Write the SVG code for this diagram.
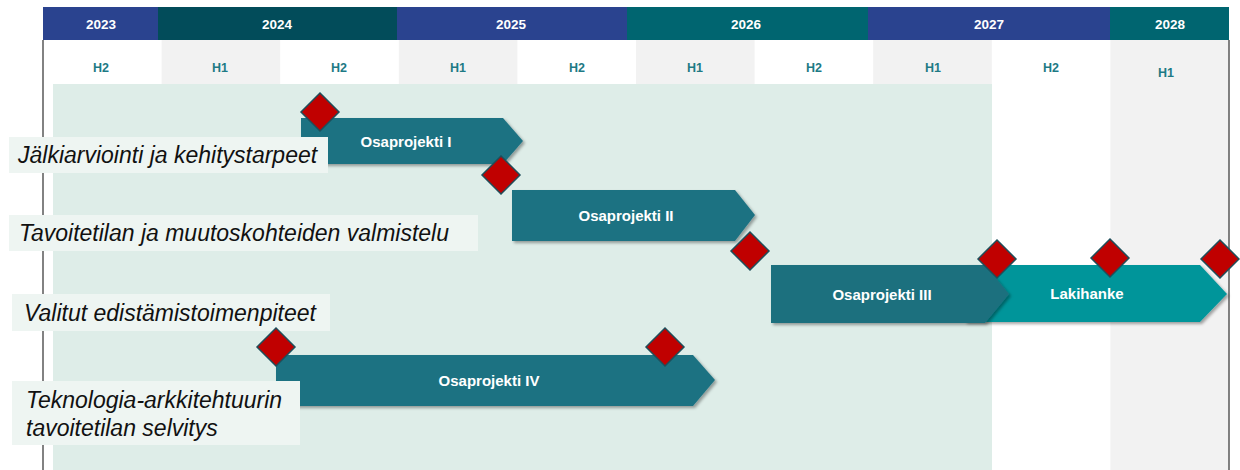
<svg xmlns="http://www.w3.org/2000/svg" width="1240" height="470" viewBox="0 0 1240 470">
<defs>
<style>
.yr{font-family:"Liberation Sans",Arial,sans-serif;font-weight:bold;font-size:13.5px;fill:#ffffff;text-anchor:middle}
.hl{font-family:"Liberation Sans",Arial,sans-serif;font-weight:bold;font-size:12.5px;fill:#1e7a85;text-anchor:middle}
.bt{font-family:"Liberation Sans",Arial,sans-serif;font-weight:bold;font-size:15px;fill:#ffffff;text-anchor:middle}
.lt{font-family:"Liberation Sans",Arial,sans-serif;font-style:italic;font-size:23px;fill:#111111}
.lb{fill:#eef5f2}
.bar{fill:#1d7282;filter:url(#sh)}
.dia{fill:#c00000;stroke:#1f4e5a;stroke-width:1.5}
.gray{fill:#f2f2f2}
</style>
<filter id="sh" x="-5%" y="-10%" width="115%" height="130%">
<feDropShadow dx="2" dy="2" stdDeviation="1.5" flood-color="#000" flood-opacity="0.35"/>
</filter>
</defs>
<rect width="1240" height="470" fill="#ffffff"/>
<g id="grid">
<rect class="gray" x="161.6" y="40" width="118.6" height="44"/>
<rect class="gray" x="398.8" y="40" width="118.6" height="44"/>
<rect class="gray" x="636" y="40" width="118.6" height="44"/>
<rect class="gray" x="873.2" y="40" width="118.6" height="44"/>
<rect class="gray" x="1110.4" y="40" width="118.6" height="430"/>
<rect x="53" y="84" width="939" height="386" fill="#deede8"/>
<line x1="43" y1="40" x2="43" y2="470" stroke="#595959" stroke-width="1.5"/>
<line x1="1229" y1="40" x2="1229" y2="470" stroke="#595959" stroke-width="1.5"/>
</g>
<g id="years">
<rect x="43" y="7" width="115" height="33" fill="#2a438f"/>
<rect x="158" y="7" width="239" height="33" fill="#024c5a"/>
<rect x="397" y="7" width="230" height="33" fill="#2a438f"/>
<rect x="627" y="7" width="241" height="33" fill="#006570"/>
<rect x="868" y="7" width="242" height="33" fill="#2a438f"/>
<rect x="1110" y="7" width="119" height="33" fill="#006570"/>
<text class="yr" x="101" y="29">2023</text>
<text class="yr" x="277" y="29">2024</text>
<text class="yr" x="511" y="29">2025</text>
<text class="yr" x="746" y="29">2026</text>
<text class="yr" x="989" y="29">2027</text>
<text class="yr" x="1170" y="29">2028</text>
</g>
<g id="halves">
<text class="hl" x="101" y="72">H2</text>
<text class="hl" x="220" y="72">H1</text>
<text class="hl" x="339" y="72">H2</text>
<text class="hl" x="458" y="72">H1</text>
<text class="hl" x="577" y="72">H2</text>
<text class="hl" x="695" y="72">H1</text>
<text class="hl" x="814" y="72">H2</text>
<text class="hl" x="933" y="72">H1</text>
<text class="hl" x="1051" y="72">H2</text>
<text class="hl" x="1166" y="77">H1</text>
</g>
<g id="lakihanke">
<polygon points="965,265 1200,265 1227,294 1200,322 965,322" fill="#00959a" filter="url(#sh)"/>
<text class="bt" x="1087" y="299">Lakihanke</text>
</g>
<g id="op1">
<polygon class="bar" points="301,118 503,118 523,141 503,164 301,164"/>
<text class="bt" x="406" y="147">Osaprojekti I</text>
</g>
<g id="op2">
<polygon class="bar" points="512,190 735,190 755,215 735,241 512,241"/>
<text class="bt" x="626" y="221">Osaprojekti II</text>
</g>
<g id="op3">
<polygon class="bar" points="771,265 985,265 1009,294 985,323 771,323" style="fill:#1e6f7e"/>
<text class="bt" x="882" y="300">Osaprojekti III</text>
</g>
<g id="op4">
<polygon class="bar" points="276,355 693,355 715,380 693,406 276,406"/>
<text class="bt" x="489" y="386">Osaprojekti IV</text>
</g>
<g id="label1">
<rect class="lb" x="9" y="137" width="319" height="36"/>
<text class="lt" x="18" y="163">Jälkiarviointi ja kehitystarpeet</text>
</g>
<g id="label2">
<rect class="lb" x="9" y="215" width="469" height="36"/>
<text class="lt" x="19" y="241">Tavoitetilan ja muutoskohteiden valmistelu</text>
</g>
<g id="label3">
<rect class="lb" x="12" y="294" width="318" height="37"/>
<text class="lt" x="24" y="321">Valitut edistämistoimenpiteet</text>
</g>
<g id="label4">
<rect class="lb" x="12" y="381" width="288" height="64"/>
<text class="lt" x="26" y="408">Teknologia-arkkitehtuurin</text>
<text class="lt" x="26" y="436">tavoitetilan selvitys</text>
</g>
<g id="milestones">
<polygon class="dia" points="320,93 339,112 320,131 301,112"/>
<polygon class="dia" points="501,156 520,175 501,194 482,175"/>
<polygon class="dia" points="750,232 769,251 750,270 731,251"/>
<polygon class="dia" points="997,240 1016,259 997,278 978,259"/>
<polygon class="dia" points="1110,239 1129,258 1110,277 1091,258"/>
<polygon class="dia" points="1220,240 1239,259 1220,278 1201,259"/>
<polygon class="dia" points="276,328 295,347 276,366 257,347"/>
<polygon class="dia" points="665,328 684,347 665,366 646,347"/>
</g>
</svg>
